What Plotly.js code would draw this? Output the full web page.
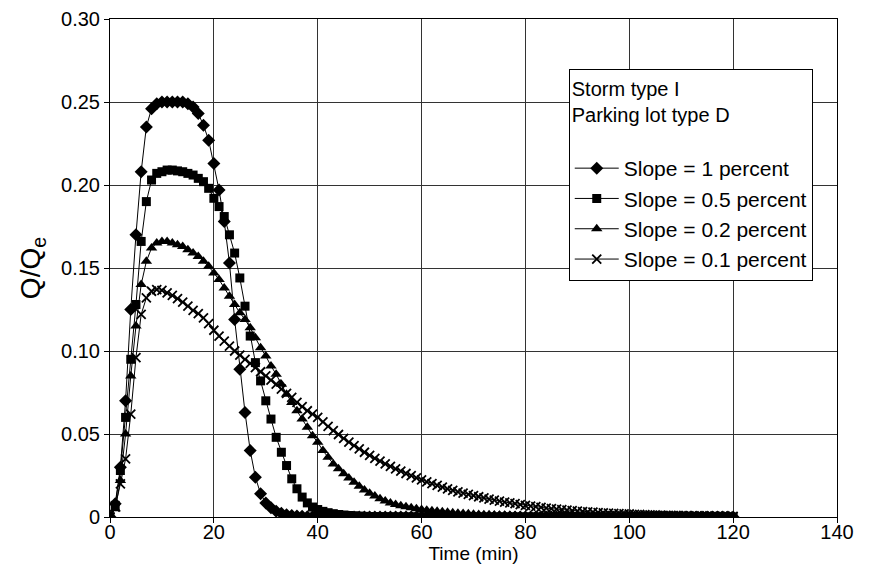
<!DOCTYPE html>
<html>
<head>
<meta charset="utf-8">
<script src="https://cdn.plot.ly/plotly-3.0.1.min.js"></script>
<style>html,body{margin:0;padding:0;background:#fff;}#chart{width:881px;height:571px;}</style>
</head>
<body>
<div id="chart"></div>
<script>
var timeMin = [
0,1,2,3,4,5,6,7,8,9,
10,11,12,13,14,15,16,17,18,19,
20,21,22,23,24,25,26,27,28,29,
30,31,32,33,34,35,36,37,38,39,
40,41,42,43,44,45,46,47,48,49,
50,51,52,53,54,55,56,57,58,59,
60,61,62,63,64,65,66,67,68,69,
70,71,72,73,74,75,76,77,78,79,
80,81,82,83,84,85,86,87,88,89,
90,91,92,93,94,95,96,97,98,99,
100,101,102,103,104,105,106,107,108,109,
110,111,112,113,114,115,116,117,118,119,
120];

var slope1 = [
0,0.008,0.03,0.07,0.125,0.17,0.208,0.235,0.246,0.249,
0.25,0.25,0.25,0.25,0.25,0.249,0.247,0.243,0.236,0.227,
0.213,0.197,0.178,0.153,0.119,0.089,0.063,0.040,0.024,0.014,
0.0085,0.0055,0.0035,0.0022,0.0014,0.0009,0.0006,0.0004,0.0002,0.0001,
0.0001,0,0,0,0,0,0,0,0,0,
0,0,0,0,0,0,0,0,0,0,
0,0,0,0,0,0,0,0,0,0,
0,0,0,0,0,0,0,0,0,0,
0,0,0,0,0,0,0,0,0,0,
0,0,0,0,0,0,0,0,0,0,
0,0,0,0,0,0,0,0,0,0,
0,0,0,0,0,0,0,0,0,0,
0];

var slope05 = [
0,0.007,0.028,0.06,0.095,0.128,0.166,0.19,0.203,0.207,
0.208,0.209,0.209,0.2085,0.208,0.207,0.206,0.204,0.202,0.198,
0.192,0.187,0.181,0.170,0.159,0.144,0.127,0.109,0.093,0.082,
0.070,0.059,0.048,0.039,0.031,0.023,0.017,0.012,0.0085,0.006,
0.0045,0.0034,0.0026,0.002,0.0015,0.0012,0.0009,0.0007,0.0005,0.0004,
0.0003,0.0002,0.0002,0.0001,0.0001,0,0,0,0,0,
0,0,0,0,0,0,0,0,0,0,
0,0,0,0,0,0,0,0,0,0,
0,0,0,0,0,0,0,0,0,0,
0,0,0,0,0,0,0,0,0,0,
0,0,0,0,0,0,0,0,0,0,
0,0,0,0,0,0,0,0,0,0,
0];

var slope02 = [
0,0.005,0.022,0.05,0.085,0.115,0.14,0.154,0.162,0.165,
0.166,0.166,0.165,0.164,0.163,0.161,0.159,0.157,0.154,0.151,
0.147,0.143,0.138,0.133,0.128,0.123,0.119,0.114,0.108,0.102,
0.097,0.091,0.086,0.080,0.074,0.069,0.064,0.059,0.054,0.049,
0.045,0.040,0.036,0.032,0.029,0.026,0.0235,0.021,0.0185,0.0163,
0.0143,0.0126,0.011,0.0096,0.0085,0.0076,0.0068,0.0061,0.0055,0.005,
0.0045,0.0041,0.0037,0.0034,0.0031,0.0028,0.0025,0.0023,0.0021,0.0019,
0.0017,0.0015,0.0014,0.0013,0.0012,0.0011,0.001,0.0009,0.0008,0.0007,
0.0007,0.0006,0.0006,0.0005,0.0005,0.0004,0.0004,0.0004,0.0003,0.0003,
0.0003,0.0002,0.0002,0.0002,0.0002,0.0002,0.0001,0.0001,0.0001,0.0001,
0.0001,0.0001,0.0001,0.0001,0.0001,0.0001,0,0,0,0,
0,0,0,0,0,0,0,0,0,0,
0];

var slope01 = [
0,0.006,0.02,0.035,0.062,0.096,0.122,0.132,0.136,0.137,
0.1365,0.135,0.1335,0.1315,0.1295,0.127,0.1245,0.1225,0.12,0.1165,
0.1125,0.109,0.106,0.103,0.1,0.0975,0.095,0.0925,0.09,0.0875,
0.085,0.0825,0.08,0.077,0.0745,0.072,0.069,0.0665,0.064,0.062,
0.06,0.0573,0.0546,0.052,0.0497,0.0474,0.0451,0.043,0.041,0.039,
0.0371,0.0353,0.0336,0.032,0.0305,0.029,0.0276,0.0262,0.0249,0.0236,
0.0224,0.0212,0.0201,0.019,0.018,0.017,0.0161,0.0152,0.0144,0.0136,
0.0129,0.0122,0.0115,0.0108,0.0102,0.0096,0.009,0.0085,0.008,0.0075,
0.007,0.0066,0.0062,0.0058,0.0054,0.005,0.0047,0.0044,0.0041,0.0038,
0.0036,0.0033,0.0031,0.0029,0.0027,0.0025,0.0023,0.0022,0.002,0.0019,
0.0018,0.0016,0.0015,0.0014,0.0013,0.0012,0.0011,0.001,0.001,0.0009,
0.0008,0.0008,0.0007,0.0007,0.0006,0.0006,0.0005,0.0005,0.0005,0.0004,
0.0004];

var seriesNames = ['Slope = 1 percent','Slope = 0.5 percent','Slope = 0.2 percent','Slope = 0.1 percent'];
var xTicks = [0,20,40,60,80,100,120,140];
var yTicks = [0,0.05,0.10,0.15,0.20,0.25,0.30];
var yTickText = ['0','0.05','0.10','0.15','0.20','0.25','0.30'];

var FONT = 'Liberation Sans, Arial, Helvetica, sans-serif';

function mk(y, name, symbol, size, lw){
  return {
    x: timeMin, y: y, name: name, type: 'scatter', mode: 'lines+markers',
    line: {color: '#000', width: 1},
    marker: {symbol: symbol, size: size, color: '#000', line: {color: '#000', width: lw}},
    hoverinfo: 'skip'
  };
}

var data = [
  mk(slope1, seriesNames[0], 'diamond', 10, 0),
  mk(slope05, seriesNames[1], 'square', 9, 0),
  mk(slope02, seriesNames[2], 'triangle-up', 10, 0),
  mk(slope01, seriesNames[3], 'x-thin-open', 9, 1.8)
];

var layout = {
  width: 881, height: 571,
  margin: {l: 110, r: 44, t: 19, b: 54, pad: 0},
  paper_bgcolor: '#fff', plot_bgcolor: '#fff',
  font: {family: FONT, color: '#000', size: 20},
  showlegend: true,
  xaxis: {
    range: [0, 140], tickvals: xTicks, ticktext: xTicks.map(String),
    showgrid: true, gridcolor: '#333', gridwidth: 1,
    zeroline: false, showline: true, mirror: true, linecolor: '#000', linewidth: 1,
    ticks: 'outside', ticklen: 5, tickcolor: '#000',
    ticklabelstandoff: -8,
    tickfont: {size: 20, family: FONT},
    title: {text: 'Time (min)', font: {size: 19, family: FONT}, standoff: 4}
  },
  yaxis: {
    range: [0, 0.30], tickvals: yTicks, ticktext: yTickText,
    showgrid: true, gridcolor: '#333', gridwidth: 1,
    zeroline: false, showline: true, mirror: true, linecolor: '#000', linewidth: 1,
    ticks: 'outside', ticklen: 5, tickcolor: '#000',
    tickfont: {size: 20, family: FONT},
    title: {text: 'Q/Q<sub>e</sub>', font: {size: 28, family: FONT}, standoff: 12}
  },
  legend: {
    x: 0.631, y: 0.8996, xanchor: 'left', yanchor: 'top',
    bgcolor: '#fff', bordercolor: '#000', borderwidth: 1,
    itemwidth: 44,
    font: {size: 21, family: FONT},
    title: {text: 'Storm type I<br>Parking lot type D<br>&nbsp;', font: {size: 20, family: FONT}}
  }
};

Plotly.newPlot('chart', data, layout, {displayModeBar: false, staticPlot: true});
</script>
</body>
</html>
